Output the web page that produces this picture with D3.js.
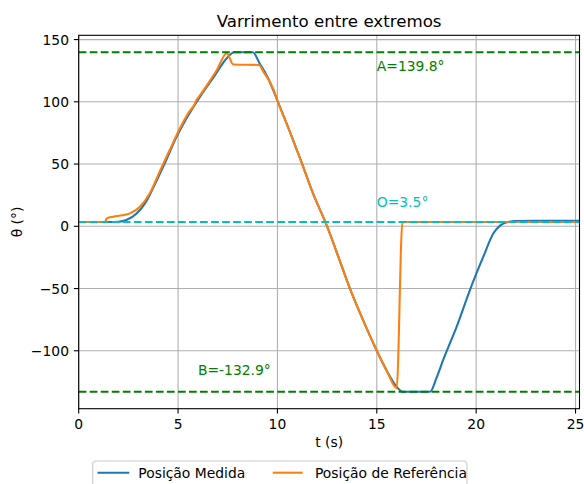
<!DOCTYPE html>
<html>
<head>
<meta charset="utf-8">
<script src="https://cdn.jsdelivr.net/npm/d3@7"></script>
<style>
  html, body { margin: 0; padding: 0; background: #fff; }
  svg { display: block; font-family: "DejaVu Sans", sans-serif; }
</style>
</head>
<body>
<svg id="chart" width="584" height="484"></svg>
<script>
// Measured position samples (time in s, angle in degrees)
const tMeasured = [0, 1.5, 2.0, 2.4, 2.9, 3.4, 3.9, 4.4, 4.9, 5.4, 6.1, 6.8, 7.45, 7.82,
  8.76, 9.1, 9.5, 10.0, 10.6, 11.2, 11.8, 12.5, 13.1, 13.65, 14.3, 15.0, 15.5, 16.0, 16.29,
  17.68, 18.0, 18.35, 19.02, 19.69, 20.36, 20.87, 21.2, 21.5, 22.0, 23.0, 25.2];
const measured = [3.5, 3.5, 3.7, 5, 10, 20, 36, 53, 71, 86, 104, 120, 135, 139.8,
  139.8, 131, 120, 101, 77, 52, 26, 0, -26, -50, -75, -100, -116, -129, -132.9,
  -132.9, -122, -107, -80.6, -51, -24.4, -5.6, 0.5, 3.0, 4.3, 4.5, 4.5];

// Reference position samples
const tReference = [0, 1.32, 1.41, 1.74, 2.2, 2.58, 3.08, 3.59, 4.09, 4.6, 5.1, 5.6, 5.8,
  5.9, 6.0, 6.2, 6.44, 6.95, 7.45, 7.78, 9.07, 9.3, 9.8, 10.0, 10.6, 11.2, 11.8, 12.5,
  13.1, 13.65, 14.3, 15.0, 15.5, 16.0, 16.29, 25.2];
const reference = [3.5, 3.5, 6.4, 7.7, 8.8, 10.4, 15.7, 27, 44.5, 62, 79, 93, 97,
  100.5, 103, 107.5, 113, 125.5, 139, 130, 129.6, 124, 110, 101, 77, 52, 26, 0,
  -26, -50, -75, -100, -116, -130, 3.5, 3.5];

// Extremes and origin
const levelA = 139.8, levelO = 3.5, levelB = -132.9;
const xTicks = [0, 5, 10, 15, 20, 25];
const yTicks = [-100, -50, 0, 50, 100, 150];
const seriesNames = ["Posição Medida", "Posição de Referência"];

const svg = d3.select("#chart");
const L = 78.7, R = 579.5, T = 35.3, B = 408.7;
const fs = 13.89;

const x = d3.scaleLinear().domain([0, 25.2]).range([L, R]);
const span = levelA - levelB;
const y = d3.scaleLinear().domain([levelB - 0.05 * span, levelA + 0.05 * span]).range([B, T]);

const fmt = v => (v < 0 ? "\u2212" + Math.abs(v) : String(v));

svg.append("defs").append("clipPath").attr("id", "plotclip")
  .append("rect").attr("x", L).attr("y", T).attr("width", R - L).attr("height", B - T);

// grid
const grid = svg.append("g");
grid.selectAll("line.gx").data(xTicks).join("line")
  .attr("x1", d => x(d)).attr("x2", d => x(d)).attr("y1", T).attr("y2", B)
  .attr("stroke", "#b0b0b0").attr("stroke-width", 1.1);
grid.selectAll("line.gy").data(yTicks).join("line")
  .attr("y1", d => y(d)).attr("y2", d => y(d)).attr("x1", L).attr("x2", R)
  .attr("stroke", "#b0b0b0").attr("stroke-width", 1.1);

const plot = svg.append("g").attr("clip-path", "url(#plotclip)");
const line = d3.line().x(d => x(d[0])).y(d => y(d[1])).curve(d3.curveMonotoneX);

plot.append("path").datum(d3.zip(tMeasured, measured))
  .attr("d", line).attr("fill", "none").attr("stroke", "#1f77b4")
  .attr("stroke-width", 2.08).attr("stroke-linejoin", "round");
plot.append("path").datum(d3.zip(tReference, reference))
  .attr("d", line).attr("fill", "none").attr("stroke", "#ff7f0e")
  .attr("stroke-width", 2.08).attr("stroke-linejoin", "round");

// horizontal reference levels
[[levelA, "#008000"], [levelO, "#00bfbf"], [levelB, "#008000"]].forEach(([v, c]) => {
  plot.append("line").attr("x1", L).attr("x2", R).attr("y1", y(v)).attr("y2", y(v))
    .attr("stroke", c).attr("stroke-width", 2.08).attr("stroke-dasharray", "7.7,3.33");
});

// annotations
const notes = [
  { t: 15, v: 125, text: "A=" + levelA + "°", color: "#008000" },
  { t: 15, v: 15.6, text: "O=" + levelO + "°", color: "#00bfbf" },
  { t: 6, v: -119.5, text: "B=" + levelB + "°", color: "#008000" }
];
svg.selectAll("text.note").data(notes).join("text")
  .attr("x", d => x(d.t)).attr("y", d => y(d.v))
  .attr("fill", d => d.color).attr("font-size", fs).text(d => d.text);

// axes frame
svg.append("rect").attr("x", L).attr("y", T).attr("width", R - L).attr("height", B - T)
  .attr("fill", "none").attr("stroke", "#000").attr("stroke-width", 1.1);

// x ticks
const xt = svg.append("g");
xt.selectAll("line").data(xTicks).join("line")
  .attr("x1", d => x(d)).attr("x2", d => x(d)).attr("y1", B).attr("y2", B + 4.86)
  .attr("stroke", "#000").attr("stroke-width", 1.1);
xt.selectAll("text").data(xTicks).join("text")
  .attr("x", d => x(d)).attr("y", 429.3).attr("text-anchor", "middle")
  .attr("font-size", fs).attr("fill", "#000").text(fmt);

// y ticks
const yt = svg.append("g");
yt.selectAll("line").data(yTicks).join("line")
  .attr("x1", L - 4.86).attr("x2", L).attr("y1", d => y(d)).attr("y2", d => y(d))
  .attr("stroke", "#000").attr("stroke-width", 1.1);
yt.selectAll("text").data(yTicks).join("text")
  .attr("x", L - 9.72).attr("y", d => y(d)).attr("dy", "0.36em").attr("text-anchor", "end")
  .attr("font-size", fs).attr("fill", "#000").text(fmt);

// labels and title
svg.append("text").attr("x", (L + R) / 2).attr("y", 447).attr("text-anchor", "middle")
  .attr("font-size", fs).text("t (s)");
svg.append("text").attr("transform", `translate(21.5, ${(T + B) / 2}) rotate(-90)`)
  .attr("text-anchor", "middle").attr("font-size", fs).text("θ (°)");
svg.append("text").attr("x", (L + R) / 2).attr("y", 27).attr("text-anchor", "middle")
  .attr("font-size", 16.67).text("Varrimento entre extremos");

// legend
const lg = svg.append("g");
lg.append("rect").attr("x", 92.7).attr("y", 461).attr("width", 374.3).attr("height", 32)
  .attr("rx", 3).attr("fill", "#fff").attr("fill-opacity", 0.8)
  .attr("stroke", "#cccccc").attr("stroke-width", 1.1);
const entries = [
  { name: seriesNames[0], color: "#1f77b4", x0: 97.5, x1: 129.3, tx: 138.3 },
  { name: seriesNames[1], color: "#ff7f0e", x0: 272.7, x1: 302.7, tx: 315 }
];
entries.forEach(e => {
  lg.append("line").attr("x1", e.x0).attr("x2", e.x1).attr("y1", 472.7).attr("y2", 472.7)
    .attr("stroke", e.color).attr("stroke-width", 2.08);
  lg.append("text").attr("x", e.tx).attr("y", 478).attr("font-size", fs).text(e.name);
});
</script>
</body>
</html>
